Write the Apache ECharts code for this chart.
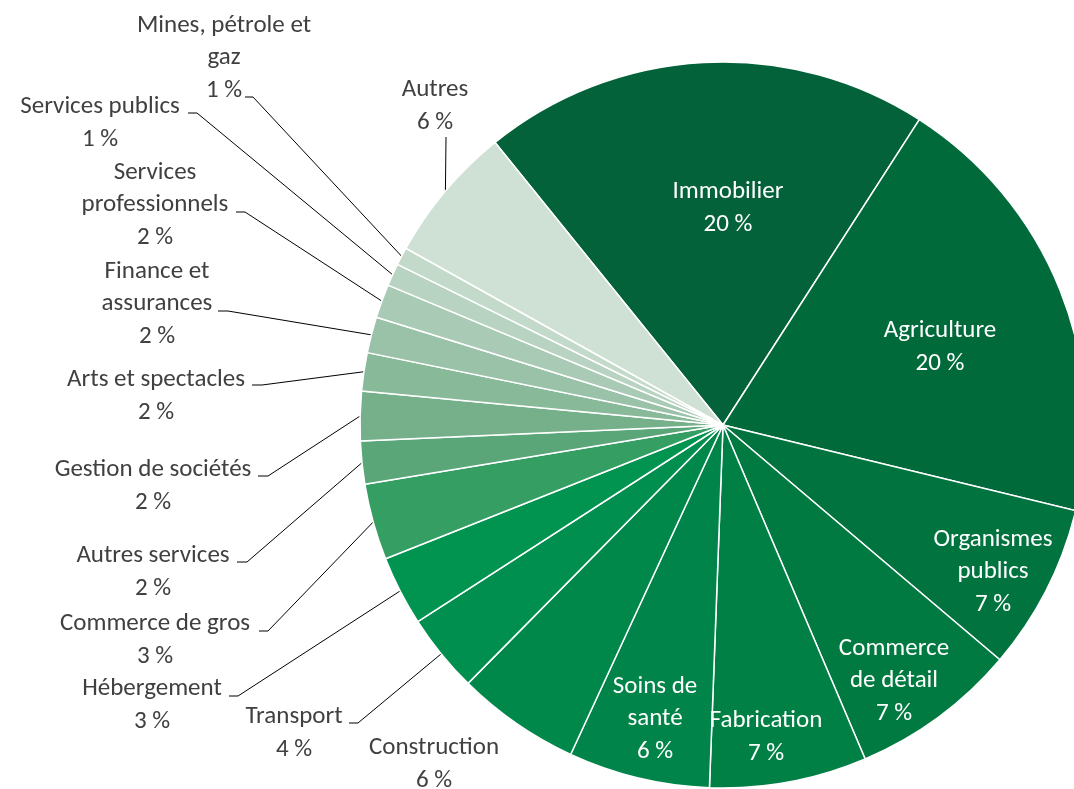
<!DOCTYPE html>
<html>
<head>
<meta charset="utf-8">
<script src="https://cdn.jsdelivr.net/npm/echarts@6/dist/echarts.min.js"></script>
<style>
  html, body { margin: 0; padding: 0; background: #fff; }
  #chart { width: 1074px; height: 789px; }
</style>
</head>
<body>
<div id="chart"></div>
<script>
// secteurs, dans le sens horaire à partir de Immobilier
const categories = ['Immobilier', 'Agriculture', 'Organismes publics', 'Commerce de détail', 'Fabrication',
  'Soins de santé', 'Construction', 'Transport', 'Hébergement', 'Commerce de gros', 'Autres services',
  'Gestion de sociétés', 'Arts et spectacles', 'Finance et assurances', 'Services professionnels',
  'Services publics', 'Mines, pétrole et gaz', 'Autres']
const values = [19.9, 19.7, 7.4, 7.4, 7.0, 6.3, 5.5, 3.5, 3.1, 3.4, 1.9, 2.2, 1.7, 1.6, 1.5, 1.0, 0.8, 6.1]
// libellés avec retours à la ligne comme dans l'original
const labelNames = ['Immobilier', 'Agriculture', 'Organismes\npublics', 'Commerce\nde détail', 'Fabrication',
  'Soins de\nsanté', 'Construction', 'Transport', 'Hébergement', 'Commerce de gros', 'Autres services',
  'Gestion de sociétés', 'Arts et spectacles', 'Finance et\nassurances', 'Services\nprofessionnels',
  'Services publics', 'Mines, pétrole et\ngaz', 'Autres']

const colors = ['#03623a', '#006a3b', '#00733e', '#007a41', '#008045', '#008449', '#00884b', '#008f4e',
  '#009450', '#359e63', '#5ba679', '#75b08b', '#88b999', '#9ac2a8', '#a9cab4', '#b8d3c1', '#c3dacb', '#cfe0d5']

// placement des étiquettes (centre du bloc) et tracé des lignes de repère
const labelSpots = [
  {x: 728, y: 208, inside: true},
  {x: 940, y: 347, inside: true},
  {x: 993, y: 572, inside: true},
  {x: 894, y: 681, inside: true},
  {x: 766, y: 737, inside: true},
  {x: 655, y: 719, inside: true},
  {x: 434, y: 764, line: null},
  {x: 294, y: 733, line: [[358, 723], [349, 723]]},
  {x: 152, y: 705, line: [[238, 696], [229, 696]]},
  {x: 155, y: 640, line: [[268, 631], [259, 631]]},
  {x: 153, y: 572, line: [[247, 562], [237, 562]]},
  {x: 153, y: 486, line: [[268, 476], [258, 476]]},
  {x: 156, y: 396, line: [[262, 385], [252, 385]]},
  {x: 157, y: 304, line: [[228, 311], [218, 311]]},
  {x: 155, y: 205, line: [[245, 212], [236, 212]]},
  {x: 100, y: 123, line: [[197, 113], [188, 113]]},
  {x: 224, y: 58, line: [[253, 97], [245, 97]]},
  {x: 435, y: 106, line: [[446, 137]]}
]

const pieData = categories.map((name, i) => {
  const spot = labelSpots[i]
  return {
    name: name,
    value: values[i],
    itemStyle: { color: colors[i] },
    label: {
      position: spot.inside ? 'inside' : 'outside',
      color: spot.inside ? '#ffffff' : '#404040'
    },
    labelLine: { show: !spot.inside && !!spot.line }
  }
})

const option = {
  animation: false,
  series: [
    {
      type: 'pie',
      center: [723, 425],
      radius: 363,
      startAngle: 128.9,
      clockwise: true,
      avoidLabelOverlap: false,
      minShowLabelAngle: 0,
      data: pieData,
      itemStyle: { borderColor: '#fff', borderWidth: 1.5 },
      emphasis: { disabled: true },
      label: {
        show: true,
        fontFamily: 'Carlito, Lato, sans-serif',
        fontSize: 25,
        lineHeight: 32.5,
        align: 'center',
        formatter(p) {
          return labelNames[p.dataIndex] + '\n' + Math.round(p.value) + ' %'
        }
      },
      labelLine: {
        length: 10,
        length2: 10,
        smooth: false,
        lineStyle: { color: '#000', width: 1 }
      },
      labelLayout(params) {
        const spot = labelSpots[params.dataIndex]
        const res = { x: spot.x, y: spot.y, align: 'center', verticalAlign: 'middle' }
        if (spot.line && params.labelLinePoints) {
          res.labelLinePoints = [params.labelLinePoints[0]].concat(spot.line)
        }
        return res
      }
    }
  ]
}

const chart = echarts.init(document.getElementById('chart'))
chart.setOption(option)
</script>
</body>
</html>
